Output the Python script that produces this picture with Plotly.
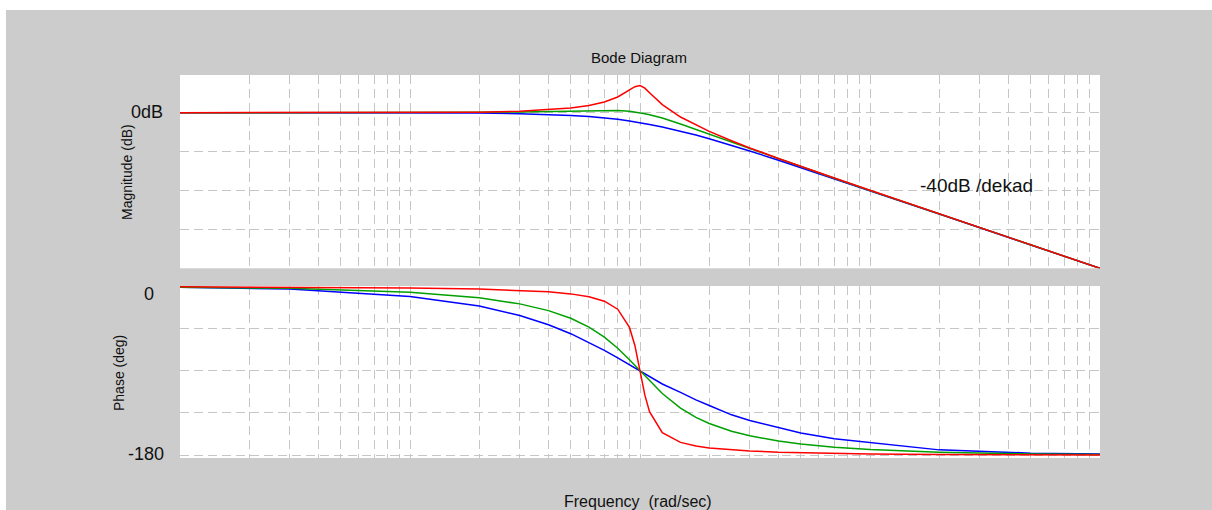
import plotly.graph_objects as go

# Frequency samples (rad/sec)
freq = [0.01, 0.03, 0.1, 0.2, 0.3, 0.4, 0.5, 0.6, 0.7, 0.8, 0.9, 0.95, 1.0, 1.05,
        1.1, 1.25, 1.5, 1.75, 2, 2.5, 3, 4, 5, 7, 10, 20, 50, 100]

# Magnitude (dB)
mag_red = [0.0, 0.0, 0.1, 0.3, 0.8, 1.5, 2.4, 3.7, 5.5, 8.1, 11.6, 13.4, 14.0, 12.6,
           10.3, 4.2, -2.2, -6.4, -9.6, -14.4, -18.1, -23.5, -27.6, -33.6, -39.9, -52.0, -68.0, -80.0]
mag_green = [0.0, 0.0, 0.0, 0.2, 0.4, 0.6, 0.9, 1.1, 1.3, 1.1, 0.7, 0.4, 0.0, -0.5,
             -1.0, -2.7, -5.8, -8.6, -11.1, -15.3, -18.6, -23.8, -27.8, -33.7, -40.0, -52.0, -68.0, -80.0]
mag_blue = [0.0, 0.0, -0.1, -0.2, -0.5, -0.9, -1.4, -2.0, -2.7, -3.4, -4.3, -4.7, -5.1, -5.5,
            -6.0, -7.3, -9.5, -11.5, -13.4, -16.8, -19.7, -24.4, -28.2, -33.9, -40.1, -52.1, -68.0, -80.0]

# Phase (deg)
phase_red = [-0.1, -0.3, -1.2, -2.4, -3.8, -5.4, -7.6, -10.6, -15.4, -24.0, -43.5, -62.8, -90.0, -116.0,
             -133.7, -156.0, -166.5, -170.4, -172.4, -174.6, -175.7, -177.0, -177.6, -178.3, -178.8, -179.4, -179.8, -179.9]
phase_green = [-0.6, -1.7, -5.8, -11.8, -18.3, -25.5, -33.7, -43.2, -53.9, -65.8, -78.1, -84.1, -90.0, -95.6,
               -100.8, -114.2, -129.8, -139.7, -146.3, -154.5, -159.4, -165.1, -168.2, -171.7, -174.2, -177.1, -178.9, -179.4]
phase_blue = [-0.5, -2.5, -10.3, -20.6, -30.7, -40.6, -50.2, -59.4, -68.0, -76.0, -83.3, -86.7, -90.0, -93.1,
              -96.1, -104.0, -113.0, -121.0, -127.0, -137.0, -143.0, -151.0, -156.5, -162.5, -166.5, -174.5, -178.0, -179.0]

series = [
    ("blue", "#0000ff", mag_blue, phase_blue),
    ("green", "#00a000", mag_green, phase_green),
    ("red", "#ff0000", mag_red, phase_red),
]

fig = go.Figure()
for name, color, mag, ph in series:
    fig.add_trace(go.Scatter(x=freq, y=mag, mode="lines", name=name,
                             line=dict(color=color, width=1.5), xaxis="x", yaxis="y"))
    fig.add_trace(go.Scatter(x=freq, y=ph, mode="lines", name=name,
                             line=dict(color=color, width=1.5), xaxis="x2", yaxis="y2"))

grid_color = "#c6c6c6"
grid_dash = "9px,5px"

xcommon = dict(
    type="log", range=[-2, 2], dtick=1, showticklabels=False, ticks="",
    showgrid=True, gridcolor=grid_color, griddash=grid_dash, gridwidth=1,
    minor=dict(dtick="D1", showgrid=True, gridcolor=grid_color, griddash=grid_dash, gridwidth=1, ticks=""),
    zeroline=False, showline=False, domain=[0, 1],
)

fig.update_layout(
    width=1212, height=510,
    margin=dict(l=180, r=112, t=75, b=52),
    paper_bgcolor="#cccccc", plot_bgcolor="#ffffff",
    showlegend=False,
    font=dict(family="Liberation Sans, Arial, sans-serif", color="#111111"),
    xaxis=dict(anchor="y", **xcommon),
    xaxis2=dict(anchor="y2", matches="x", **xcommon),
    yaxis=dict(domain=[0.4953, 1], range=[-80, 19.4], tickvals=[0, -20, -40, -60, -80],
               showticklabels=False, ticks="", showgrid=True, gridcolor=grid_color,
               griddash=grid_dash, zeroline=False, showline=False),
    yaxis2=dict(domain=[0, 0.449], range=[-183.2, 0.8], tickvals=[0, -45, -90, -135, -180],
                showticklabels=False, ticks="", showgrid=True, gridcolor=grid_color,
                griddash=grid_dash, zeroline=False, showline=False),
)

# White page margin around the gray panel
fig.add_shape(type="rect", xref="paper", yref="paper", x0=-0.25, x1=1.25, y0=1.1697, y1=1.25,
              fillcolor="#ffffff", line_width=0, layer="below")
fig.add_shape(type="rect", xref="paper", yref="paper", x0=-0.25, x1=-0.18913, y0=-0.25, y1=1.25,
              fillcolor="#ffffff", line_width=0, layer="below")

def label(text, x, y, size, xanchor="center", angle=0):
    fig.add_annotation(text=text, x=x, y=y, xref="paper", yref="paper", showarrow=False,
                       xanchor=xanchor, yanchor="middle", textangle=angle,
                       font=dict(size=size, color="#111111"))

label("Bode Diagram", 0.4989, 1.0444, 15)
label("0dB", -0.0163, 0.9042, 18, xanchor="right")
label("0", -0.0342, 0.4295, 18)
label("-180", -0.0152, 0.011, 18, xanchor="right")
label("Magnitude (dB)", -0.0576, 0.7467, 14, angle=-90)
label("Phase (deg)", -0.0663, 0.2219, 14, angle=-90)
label("Frequency\u00a0 (rad/sec)", 0.4973, -0.1136, 16)
label("-40dB /dekad", 0.8022, 0.7102, 19, xanchor="left")

fig.write_html("out.html")
